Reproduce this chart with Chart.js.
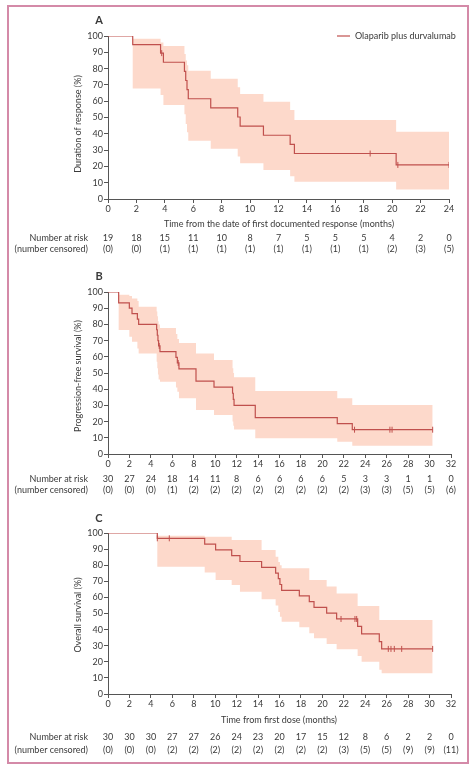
<!DOCTYPE html>
<html><head><meta charset="utf-8">
<script src="https://cdn.jsdelivr.net/npm/chart.js@4.4.1/dist/chart.umd.min.js"></script>
<style>
html,body{margin:0;padding:0;background:#fff;}
#wrap{position:relative;width:476px;height:770px;overflow:hidden;background:#fff;}
canvas{position:absolute;left:0;}
#frame{position:absolute;left:7px;top:5px;width:462px;height:759px;box-sizing:border-box;border:2px solid #d48aa8;pointer-events:none;}
</style></head><body>
<div id="wrap">
<canvas id="cA" style="top:0px" width="476" height="258"></canvas>
<canvas id="cB" style="top:258px" width="476" height="242"></canvas>
<canvas id="cC" style="top:500px" width="476" height="270"></canvas>
<div id="frame"></div>
</div>
<script>
// ---------- Panel A: duration of response ----------
const aTimes = [0, 1.74, 3.70, 3.90, 5.38, 5.47, 5.56, 5.65, 7.23, 9.13, 9.30, 10.94, 12.82, 13.12, 20.28, 24.0];
const aSurv  = [100, 94.7, 89.5, 83.9, 78.3, 72.7, 67.1, 61.5, 55.9, 50.3, 44.7, 39.1, 33.5, 27.9, 20.9, 20.9];
const aUpper = [100, 98.3, 96.0, 93.9, 89.0, 85.0, 82.0, 78.7, 73.8, 68.5, 64.4, 59.7, 54.6, 48.5, 41.3, 41.3];
const aLower = [100, 67.8, 63.8, 57.7, 52.0, 46.0, 41.0, 35.8, 30.9, 26.0, 21.9, 17.8, 14.0, 10.6, 5.9, 5.9];
const aCensT = [3.78, 18.45, 20.40, 24.0];
const aCensS = [89.5, 27.9, 20.9, 20.9];
const aRiskT = [0, 2, 4, 6, 8, 10, 12, 14, 16, 18, 20, 22, 24];
const aRisk  = [19, 18, 15, 11, 10, 8, 7, 5, 5, 5, 4, 2, 0];
const aCens  = [0, 0, 1, 1, 1, 1, 1, 1, 1, 1, 2, 3, 5];

// ---------- Panel B: progression-free survival ----------
const bTimes = [0, 0.995, 1.99, 2.24, 2.74, 2.86, 4.54, 4.60, 4.66, 4.72, 4.85, 6.34, 6.47, 6.62, 8.21, 9.89, 11.62, 11.69, 11.76, 13.74, 21.39, 22.79, 30.29];
const bSurv  = [100, 93.3, 90.0, 86.7, 83.3, 80.0, 76.7, 73.3, 70.0, 66.7, 63.2, 59.7, 56.2, 52.5, 45.0, 41.25, 37.5, 33.75, 30.0, 22.5, 18.75, 15.0, 15.0];
const bUpper = [100, 98.3, 97.5, 96.0, 94.5, 90.9, 88.0, 85.0, 82.0, 80.0, 77.8, 74.0, 71.0, 68.5, 62.1, 58.0, 53.0, 50.0, 47.3, 38.9, 34.4, 30.2, 30.2];
const bLower = [100, 76.5, 72.4, 69.3, 65.2, 62.1, 57.0, 53.0, 49.0, 46.0, 44.6, 41.0, 38.5, 34.4, 27.2, 24.1, 20.0, 17.5, 15.2, 9.7, 7.6, 5.1, 5.1];
const bCensT = [4.78, 6.55, 23.0, 26.3, 26.5, 30.29];
const bCensS = [66.7, 56.2, 15.0, 15.0, 15.0, 15.0];
const bRiskT = [0, 2, 4, 6, 8, 10, 12, 14, 16, 18, 20, 22, 24, 26, 28, 30, 32];
const bRisk  = [30, 27, 24, 18, 14, 11, 8, 6, 6, 6, 6, 5, 3, 3, 1, 1, 0];
const bCens  = [0, 0, 0, 1, 2, 2, 2, 2, 2, 2, 2, 2, 3, 3, 5, 5, 6];

// ---------- Panel C: overall survival ----------
const cTimes = [0, 4.60, 9.02, 10.04, 11.54, 12.31, 14.33, 15.64, 15.89, 16.04, 16.20, 17.85, 18.78, 19.22, 20.40, 21.33, 23.29, 23.66, 25.31, 25.53, 30.29];
const cSurv  = [100, 96.7, 93.1, 89.5, 85.9, 82.3, 78.7, 75.1, 71.6, 68.0, 64.4, 61.0, 57.4, 53.8, 50.2, 46.6, 42.0, 37.3, 32.5, 28.0, 28.0];
const cUpper = [100, 98.3, 97.7, 97.7, 95.7, 95.7, 89.4, 85.3, 82.0, 80.0, 78.1, 78.1, 70.8, 70.8, 66.7, 62.5, 54.7, 54.7, 46.0, 46.0, 46.0];
const cLower = [100, 79.1, 75.4, 70.8, 67.7, 63.5, 58.8, 55.0, 51.0, 48.0, 44.9, 41.4, 37.7, 34.6, 31.1, 27.8, 23.6, 20.1, 15.0, 12.9, 12.9];
const cCensT = [4.60, 5.72, 21.74, 23.04, 23.20, 26.15, 26.40, 26.71, 27.40, 30.29];
const cCensS = [96.7, 96.7, 46.6, 46.6, 46.6, 28.0, 28.0, 28.0, 28.0, 28.0];
const cRiskT = [0, 2, 4, 6, 8, 10, 12, 14, 16, 18, 20, 22, 24, 26, 28, 30, 32];
const cRisk  = [30, 30, 30, 27, 27, 26, 24, 23, 20, 17, 15, 12, 8, 6, 2, 2, 0];
const cCens  = [0, 0, 0, 2, 2, 2, 2, 2, 2, 2, 2, 3, 5, 5, 9, 9, 11];

const LINE = '#c0504d';
const BAND = '#fdd9cb';
const AXIS = '#555555';
const TEXT = '#3a3a3a';
const FONT = 'Lato, "Open Sans", sans-serif';

function pts(xs, ys){ return xs.map((x,i)=>({x:x, y:ys[i]})); }

function makePanel(id, p){
  const plugin = {
    id: 'deco' + p.letter,
    afterDraw(chart){
      const ctx = chart.ctx, x = chart.scales.x, o = p.top;
      ctx.save();
      ctx.fillStyle = TEXT;
      // panel letter
      ctx.font = 'bold 11px ' + FONT;
      ctx.textAlign = 'center'; ctx.textBaseline = 'middle';
      ctx.fillText(p.letter, 99, p.letterY - o);
      // y title
      ctx.font = '9px ' + FONT;
      ctx.save();
      ctx.translate(78, p.yTitleY - o);
      ctx.rotate(-Math.PI/2);
      ctx.fillText(p.yTitle, 0, 0);
      ctx.restore();
      // x title
      if (p.xTitle){ ctx.fillText(p.xTitle, 279, p.xTitleY - o); }
      // risk table
      ctx.textAlign = 'right';
      ctx.fillText('Number at risk', 88, p.riskY - o);
      ctx.fillText('(number censored)', 88, p.censY - o);
      ctx.textAlign = 'center';
      p.riskT.forEach((t,i)=>{
        const px = x.getPixelForValue(t);
        ctx.fillText(String(p.risk[i]), px, p.riskY - o);
        ctx.fillText('(' + p.cens[i] + ')', px, p.censY - o);
      });
      // legend
      if (p.legend){
        ctx.strokeStyle = LINE; ctx.lineWidth = 1.2;
        ctx.beginPath(); ctx.moveTo(337, 36 - o); ctx.lineTo(350, 36 - o); ctx.stroke();
        ctx.textAlign = 'left';
        ctx.fillText(p.legend, 355, 36 - o);
      }
      ctx.restore();
    }
  };
  return new Chart(document.getElementById(id), {
    type: 'line',
    data: {
      datasets: [
        { label: 'km', data: pts(p.times, p.surv), stepped: true, borderColor: LINE, borderWidth: 1.2, pointRadius: 0, fill: false, order: 0 },
        { label: 'censored', data: pts(p.censT, p.censS), showLine: false, pointStyle: 'line', rotation: 90, pointRadius: 3, borderColor: LINE, borderWidth: 1, pointBorderColor: LINE, order: 0 },
        { label: 'lower', data: pts(p.times, p.lower), stepped: true, borderWidth: 0, borderColor: 'rgba(0,0,0,0)', pointRadius: 0, fill: false, order: 2 },
        { label: 'upper', data: pts(p.times, p.upper), stepped: true, borderWidth: 0, borderColor: 'rgba(0,0,0,0)', pointRadius: 0, fill: '-1', backgroundColor: BAND, order: 1 }
      ]
    },
    options: {
      responsive: false, animation: false,
      layout: { padding: { left: 0, right: 476 - p.right, top: p.padTop, bottom: 0 } },
      plugins: { legend: { display: false }, tooltip: { enabled: false } },
      elements: { line: { tension: 0 } },
      scales: {
        x: {
          type: 'linear', min: 0, max: p.xMax,
          ticks: { stepSize: 2, color: TEXT, font: { size: 9, family: FONT }, padding: 1, maxRotation: 0, autoSkip: false },
          grid: { drawOnChartArea: false, drawTicks: true, tickLength: 4, color: AXIS },
          border: { color: AXIS, width: 1 },
          afterFit(s){ s.height = p.xAxisH; }
        },
        y: {
          min: 0, max: 100,
          ticks: { stepSize: 10, color: TEXT, font: { size: 9, family: FONT }, padding: 1 },
          grid: { drawOnChartArea: false, drawTicks: true, tickLength: 4, color: AXIS },
          border: { color: AXIS, width: 1 },
          afterFit(s){ s.width = 108; }
        }
      }
    },
    plugins: [plugin]
  });
}

makePanel('cA', { letter:'A', top:0, letterY:20, padTop:36, xAxisH:258-199, right:449, xMax:24,
  times:aTimes, surv:aSurv, upper:aUpper, lower:aLower, censT:aCensT, censS:aCensS,
  riskT:aRiskT, risk:aRisk, cens:aCens, yTitle:'Duration of response (%)', yTitleY:124,
  xTitle:'Time from the date of first documented response (months)', xTitleY:224,
  riskY:238, censY:249, legend:'Olaparib plus durvalumab' });

makePanel('cB', { letter:'B', top:258, letterY:276, padTop:292-258, xAxisH:500-454, right:451, xMax:32,
  times:bTimes, surv:bSurv, upper:bUpper, lower:bLower, censT:bCensT, censS:bCensS,
  riskT:bRiskT, risk:bRisk, cens:bCens, yTitle:'Progression-free survival (%)', yTitleY:376,
  xTitle:null, riskY:479, censY:490, legend:null });

makePanel('cC', { letter:'C', top:500, letterY:518, padTop:533-500, xAxisH:770-694, right:451, xMax:32,
  times:cTimes, surv:cSurv, upper:cUpper, lower:cLower, censT:cCensT, censS:cCensS,
  riskT:cRiskT, risk:cRisk, cens:cCens, yTitle:'Overall survival (%)', yTitleY:615,
  xTitle:'Time from first dose (months)', xTitleY:720, riskY:737, censY:750, legend:null });
</script>
</body></html>
